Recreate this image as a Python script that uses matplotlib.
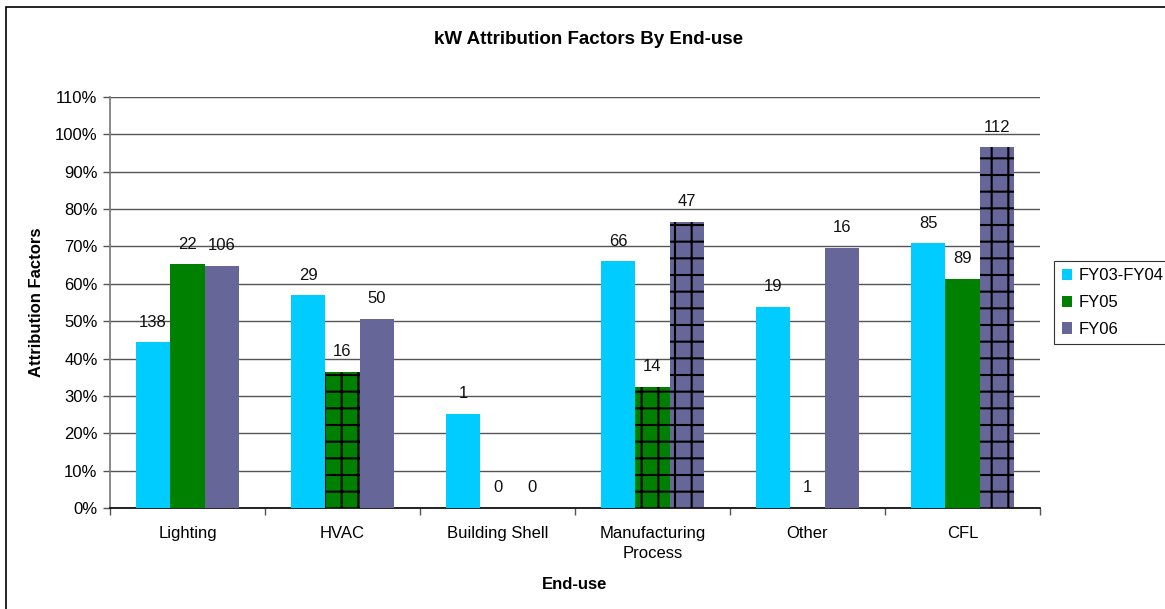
import matplotlib
matplotlib.use("Agg")
import matplotlib.pyplot as plt
from matplotlib.patches import Patch, Rectangle
from matplotlib.ticker import MultipleLocator, PercentFormatter

plt.rcParams['font.family'] = ['Liberation Sans', 'DejaVu Sans']
plt.rcParams['hatch.linewidth'] = 1.5
plt.rcParams['hatch.color'] = 'black'

# Data
categories = ['Lighting', 'HVAC', 'Building Shell', 'Manufacturing\nProcess', 'Other', 'CFL']
series_names = ['FY03-FY04', 'FY05', 'FY06']
fy03_fy04 = [44.4, 57.0, 25.2, 66.1, 53.8, 70.9]
fy05 = [65.3, 36.4, 0.0, 32.4, 0.0, 61.3]
fy06 = [64.8, 50.6, 0.0, 76.6, 69.7, 96.6]
n_fy03_fy04 = [138, 29, 1, 66, 19, 85]
n_fy05 = [22, 16, 0, 14, 1, 89]
n_fy06 = [106, 50, 0, 47, 16, 112]
# bars drawn with a grid fill
gridded_fy03_fy04 = [False, False, False, False, False, False]
gridded_fy05 = [False, True, False, True, False, False]
gridded_fy06 = [False, False, False, True, False, True]

colors = ['#00CCFF', '#008000', '#666699']
values = [fy03_fy04, fy05, fy06]
counts = [n_fy03_fy04, n_fy05, n_fy06]
gridded = [gridded_fy03_fy04, gridded_fy05, gridded_fy06]

W, H = 1165, 609
fig = plt.figure(figsize=(W / 100, H / 100), dpi=100)
ax = fig.add_axes([110 / W, 1 - 508 / H, 930 / W, 411 / H])

FS = 12
bar_w = 1 / 4.5
for j, (vals, cnts, grid, col) in enumerate(zip(values, counts, gridded, colors)):
    for i, (v, n, g) in enumerate(zip(vals, cnts, grid)):
        x = i + (j - 1) * bar_w
        if g:
            ax.bar(x, v, width=bar_w, color=col, edgecolor='black',
                   hatch='+', linewidth=0, zorder=3)
        else:
            ax.bar(x, v, width=bar_w, color=col, edgecolor='none',
                   linewidth=0, zorder=3)
        ax.annotate(str(n), (x, v), xytext=(0, 9), textcoords='offset points',
                    ha='center', va='bottom', fontsize=FS, color='#111111', zorder=4)

ax.set_xlim(-0.5, len(categories) - 0.5)
ax.set_ylim(0, 110)
ax.yaxis.set_major_locator(MultipleLocator(10))
ax.yaxis.set_major_formatter(PercentFormatter(decimals=0))
ax.grid(axis='y', color='#555555', linewidth=1.0, zorder=0)
ax.set_axisbelow(True)

ax.set_xticks(range(len(categories)))
ax.set_xticklabels(categories, fontsize=FS, linespacing=1.45)
ax.set_xticks([i - 0.5 for i in range(len(categories) + 1)], minor=True)
ax.tick_params(axis='x', which='major', length=0, pad=13)
ax.tick_params(axis='x', which='minor', length=5, width=1, color='#555555', direction='out')
ax.tick_params(axis='y', length=5, width=1, color='#555555', labelsize=FS, pad=4)

for s in ['top', 'right']:
    ax.spines[s].set_visible(False)
ax.spines['left'].set_color('#777777')
ax.spines['left'].set_linewidth(1.2)
ax.spines['bottom'].set_color('black')
ax.spines['bottom'].set_linewidth(1.2)

ax.set_xlabel('End-use', fontsize=FS, fontweight='bold', labelpad=11)
ax.set_ylabel('Attribution Factors', fontsize=FS, fontweight='bold', labelpad=8)
fig.text(589 / W, 1 - 39 / H, 'kW Attribution Factors By End-use',
         ha='center', va='center', fontsize=13.5, fontweight='bold')

handles = [Patch(facecolor=c, edgecolor='none') for c in colors]
leg = fig.legend(handles, series_names, loc='upper left',
                 bbox_to_anchor=(1054 / W, 1 - 261 / H), fontsize=FS,
                 frameon=True, fancybox=False, edgecolor='black',
                 handlelength=0.65, handleheight=0.65, handletextpad=0.35,
                 labelspacing=0.7, borderpad=0.45, borderaxespad=0)
leg.get_frame().set_linewidth(0.8)

# chart outline
fig.patches.append(Rectangle((6 / W, -0.1), 1.2, 1 - 7 / H + 0.1,
                             transform=fig.transFigure, fill=False,
                             edgecolor='black', linewidth=1.2))

fig.savefig('out.png', dpi=100)
